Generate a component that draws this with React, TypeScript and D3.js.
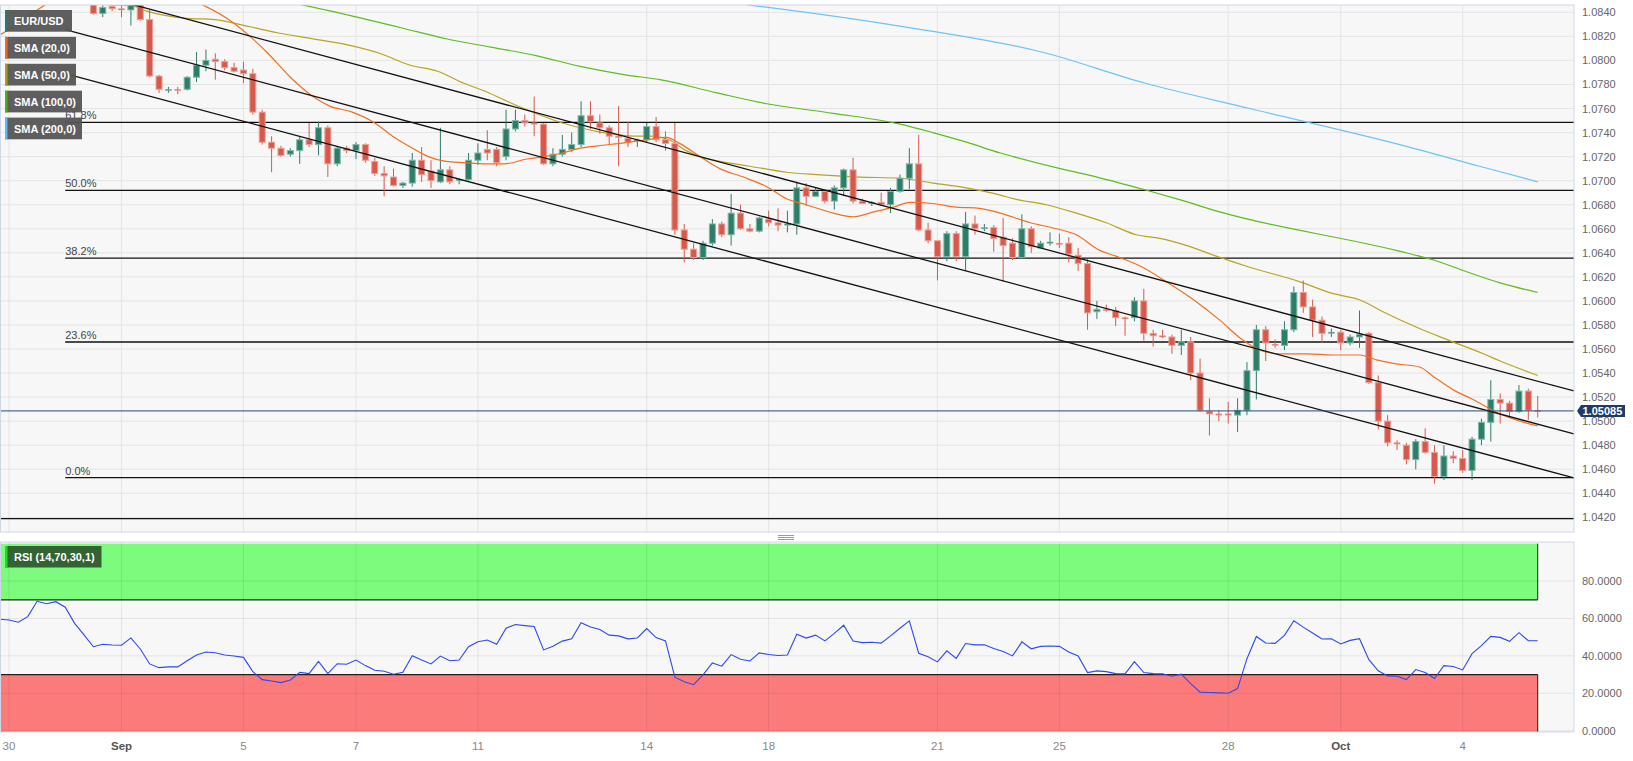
import React from 'react';
import * as d3 from 'd3';

const W = 1633;
const H = 761;

// ---- Candles (4H EUR/USD), index 0..164 ----
const opens = [
  1.0862, 1.0870, 1.0881, 1.0877, 1.0901, 1.0931, 1.0922, 1.0928, 1.0909, 1.0884,
  1.0858, 1.0839, 1.0845, 1.0843, 1.0842, 1.0848, 1.0834, 1.0787, 1.0775, 1.0776,
  1.0776, 1.0786, 1.0796, 1.0801, 1.0799, 1.0794, 1.0792, 1.0789, 1.0757, 1.0732,
  1.0727, 1.0722, 1.0725, 1.0734, 1.0730, 1.0744, 1.0714, 1.0727, 1.0725, 1.0730,
  1.0716, 1.0706, 1.0703, 1.0696, 1.0698, 1.0717, 1.0708, 1.0699, 1.0709, 1.0700,
  1.0701, 1.0717, 1.0726, 1.0726, 1.0720, 1.0743, 1.0750, 1.0748, 1.0747, 1.0714,
  1.0722, 1.0726, 1.0730, 1.0754, 1.0748, 1.0744, 1.0737, 1.0735, 1.0733, 1.0734,
  1.0745, 1.0734, 1.0731, 1.0659, 1.0643, 1.0636, 1.0648, 1.0664, 1.0655, 1.0673,
  1.0660, 1.0658, 1.0668, 1.0665, 1.0663, 1.0664, 1.0694, 1.0687, 1.0691, 1.0683,
  1.0694, 1.0709, 1.0683, 1.0681, 1.0682, 1.0680, 1.0691, 1.0702, 1.0714, 1.0659,
  1.0650, 1.0637, 1.0656, 1.0637, 1.0664, 1.0660, 1.0661, 1.0653, 1.0648, 1.0636,
  1.0660, 1.0644, 1.0648, 1.0648, 1.0648, 1.0638, 1.0631, 1.0591, 1.0593, 1.0592,
  1.0586, 1.0586, 1.0600, 1.0573, 1.0571, 1.0570, 1.0563, 1.0566, 1.0540, 1.0508,
  1.0506, 1.0506, 1.0505, 1.0509, 1.0542, 1.0576, 1.0564, 1.0563, 1.0576, 1.0607,
  1.0595, 1.0584, 1.0573, 1.0574, 1.0565, 1.0570, 1.0573, 1.0532, 1.0500, 1.0482,
  1.0480, 1.0468, 1.0483, 1.0474, 1.0454, 1.0471, 1.0469, 1.0459, 1.0485, 1.0499,
  1.0518, 1.0515, 1.0508, 1.0525, 1.0509,
];
const highs = [
  1.0875, 1.0886, 1.0892, 1.0905, 1.0945, 1.0941, 1.0936, 1.0932, 1.0914, 1.0889,
  1.0861, 1.0846, 1.0848, 1.0846, 1.0851, 1.0852, 1.0842, 1.0788, 1.0778, 1.0778,
  1.0787, 1.0807, 1.0809, 1.0806, 1.0801, 1.0798, 1.0799, 1.0793, 1.0759, 1.0737,
  1.0729, 1.0727, 1.0737, 1.0748, 1.0749, 1.0746, 1.0729, 1.0729, 1.0732, 1.0731,
  1.0719, 1.0712, 1.0710, 1.0699, 1.0723, 1.0728, 1.0717, 1.0744, 1.0712, 1.0702,
  1.0723, 1.0731, 1.0742, 1.0728, 1.0759, 1.0759, 1.0755, 1.0770, 1.0748, 1.0727,
  1.0738, 1.0740, 1.0766, 1.0766, 1.0755, 1.0746, 1.0762, 1.0749, 1.0735, 1.0748,
  1.0753, 1.0741, 1.0748, 1.0664, 1.0648, 1.0650, 1.0668, 1.0666, 1.0689, 1.0680,
  1.0664, 1.0670, 1.0675, 1.0677, 1.0675, 1.0699, 1.0698, 1.0694, 1.0693, 1.0696,
  1.0710, 1.0719, 1.0685, 1.0683, 1.0690, 1.0694, 1.0705, 1.0727, 1.0738, 1.0665,
  1.0650, 1.0658, 1.0658, 1.0674, 1.0671, 1.0664, 1.0663, 1.0669, 1.0652, 1.0672,
  1.0662, 1.0650, 1.0657, 1.0656, 1.0653, 1.0644, 1.0635, 1.0600, 1.0597, 1.0595,
  1.0587, 1.0603, 1.0610, 1.0576, 1.0576, 1.0572, 1.0576, 1.0570, 1.0552, 1.0519,
  1.0509, 1.0516, 1.0519, 1.0549, 1.0580, 1.0579, 1.0568, 1.0583, 1.0612, 1.0617,
  1.0601, 1.0587, 1.0577, 1.0576, 1.0572, 1.0592, 1.0574, 1.0538, 1.0505, 1.0484,
  1.0482, 1.0485, 1.0494, 1.0480, 1.0480, 1.0475, 1.0476, 1.0487, 1.0502, 1.0534,
  1.0523, 1.0517, 1.0530, 1.0527, 1.0521,
];
const lows = [
  1.0855, 1.0863, 1.0872, 1.0874, 1.0896, 1.0915, 1.0914, 1.0904, 1.0878, 1.0852,
  1.0838, 1.0836, 1.0841, 1.0836, 1.0829, 1.0833, 1.0786, 1.0773, 1.0773, 1.0772,
  1.0775, 1.0782, 1.0791, 1.0784, 1.0792, 1.0790, 1.0781, 1.0755, 1.0730, 1.0707,
  1.0720, 1.0720, 1.0714, 1.0728, 1.0721, 1.0703, 1.0712, 1.0723, 1.0718, 1.0715,
  1.0704, 1.0687, 1.0695, 1.0694, 1.0695, 1.0699, 1.0694, 1.0698, 1.0697, 1.0697,
  1.0700, 1.0713, 1.0717, 1.0712, 1.0717, 1.0741, 1.0745, 1.0737, 1.0713, 1.0712,
  1.0720, 1.0724, 1.0728, 1.0743, 1.0739, 1.0730, 1.0712, 1.0728, 1.0728, 1.0732,
  1.0732, 1.0725, 1.0655, 1.0632, 1.0634, 1.0634, 1.0646, 1.0653, 1.0646, 1.0659,
  1.0657, 1.0657, 1.0662, 1.0658, 1.0657, 1.0655, 1.0679, 1.0687, 1.0681, 1.0676,
  1.0687, 1.0681, 1.0681, 1.0679, 1.0679, 1.0673, 1.0690, 1.0693, 1.0658, 1.0648,
  1.0617, 1.0633, 1.0633, 1.0625, 1.0655, 1.0658, 1.0641, 1.0616, 1.0634, 1.0635,
  1.0640, 1.0644, 1.0646, 1.0644, 1.0632, 1.0625, 1.0576, 1.0585, 1.0591, 1.0579,
  1.0571, 1.0583, 1.0567, 1.0562, 1.0569, 1.0556, 1.0555, 1.0534, 1.0508, 1.0488,
  1.0500, 1.0498, 1.0491, 1.0505, 1.0518, 1.0550, 1.0561, 1.0559, 1.0574, 1.0590,
  1.0570, 1.0565, 1.0570, 1.0559, 1.0563, 1.0561, 1.0531, 1.0493, 1.0479, 1.0476,
  1.0464, 1.0460, 1.0473, 1.0448, 1.0451, 1.0465, 1.0457, 1.0451, 1.0480, 1.0483,
  1.0498, 1.0504, 1.0507, 1.0501, 1.0503,
];
const closes = [
  1.0870, 1.0881, 1.0877, 1.0901, 1.0931, 1.0922, 1.0928, 1.0909, 1.0884, 1.0858,
  1.0839, 1.0844, 1.0843, 1.0842, 1.0848, 1.0834, 1.0787, 1.0776, 1.0776, 1.0775,
  1.0786, 1.0796, 1.0800, 1.0799, 1.0794, 1.0791, 1.0789, 1.0757, 1.0732, 1.0727,
  1.0721, 1.0725, 1.0734, 1.0730, 1.0744, 1.0714, 1.0727, 1.0725, 1.0730, 1.0717,
  1.0706, 1.0704, 1.0696, 1.0698, 1.0717, 1.0705, 1.0700, 1.0709, 1.0699, 1.0701,
  1.0717, 1.0723, 1.0723, 1.0715, 1.0743, 1.0750, 1.0748, 1.0747, 1.0714, 1.0722,
  1.0726, 1.0730, 1.0754, 1.0749, 1.0744, 1.0737, 1.0736, 1.0732, 1.0734, 1.0745,
  1.0734, 1.0731, 1.0659, 1.0643, 1.0636, 1.0648, 1.0664, 1.0655, 1.0673, 1.0660,
  1.0658, 1.0669, 1.0665, 1.0663, 1.0664, 1.0694, 1.0687, 1.0691, 1.0683, 1.0694,
  1.0709, 1.0683, 1.0681, 1.0682, 1.0680, 1.0691, 1.0702, 1.0714, 1.0659, 1.0650,
  1.0637, 1.0656, 1.0637, 1.0664, 1.0660, 1.0661, 1.0652, 1.0646, 1.0636, 1.0660,
  1.0645, 1.0648, 1.0649, 1.0647, 1.0639, 1.0631, 1.0590, 1.0593, 1.0592, 1.0586,
  1.0585, 1.0600, 1.0573, 1.0571, 1.0570, 1.0563, 1.0566, 1.0540, 1.0509, 1.0506,
  1.0505, 1.0505, 1.0509, 1.0542, 1.0576, 1.0565, 1.0563, 1.0576, 1.0607, 1.0595,
  1.0584, 1.0573, 1.0574, 1.0565, 1.0570, 1.0572, 1.0532, 1.0500, 1.0482, 1.0481,
  1.0468, 1.0483, 1.0474, 1.0454, 1.0471, 1.0469, 1.0459, 1.0485, 1.0499, 1.0518,
  1.0515, 1.0508, 1.0525, 1.0509, 1.05085,
];

// ---- RSI (14) ----
const rsiValues = [
  59.6, 59.2, 58.0, 61.0, 69.2, 67.9, 69.0, 66.0, 57.4, 51.2,
  44.9, 46.2, 45.8, 45.7, 49.6, 43.7, 35.7, 33.7, 34.1, 34.1,
  37.4, 40.5, 42.1, 41.7, 40.5, 39.9, 39.2, 31.6, 27.3, 26.6,
  25.7, 27.1, 31.2, 30.5, 37.1, 30.5, 35.8, 35.5, 37.8, 34.8,
  32.3, 31.8, 30.2, 31.2, 40.1, 37.8, 35.7, 39.9, 37.4, 37.8,
  44.9, 47.6, 48.5, 46.2, 54.8, 56.8, 56.2, 55.7, 43.2, 45.2,
  47.9, 49.1, 57.7, 55.4, 54.1, 51.1, 50.7, 49.1, 49.6, 54.6,
  49.8, 48.0, 28.6, 26.2, 24.6, 29.8, 36.2, 34.5, 40.7, 38.2,
  37.3, 41.6, 40.7, 40.2, 40.5, 51.6, 49.5, 51.1, 48.0, 52.0,
  56.4, 47.9, 47.1, 47.3, 46.8, 50.7, 54.8, 58.7, 41.4, 39.5,
  36.8, 42.7, 38.7, 46.6, 45.9, 45.9, 43.9, 42.3, 40.0, 47.5,
  43.8, 45.1, 45.3, 45.1, 42.1, 40.0, 31.1, 32.0, 31.6, 30.5,
  30.4, 36.9, 31.1, 30.5, 30.4, 29.1, 30.2, 25.2, 20.6, 20.4,
  20.2, 20.0, 22.5, 38.5, 50.4, 46.9, 46.7, 51.0, 58.8, 55.4,
  52.2, 49.0, 49.2, 46.4, 48.3, 49.2, 38.0, 32.0, 29.3, 29.1,
  27.3, 32.7, 31.1, 27.9, 34.8, 34.3, 32.5, 41.2, 45.5, 50.4,
  49.9, 47.8, 52.4, 48.1, 48.1,
];

// ---- Moving averages (candle index, value) ----
const sma20Idx = [0, 2.2, 4.8, 8, 12, 16, 19, 21.7, 24.8, 26.7, 28.6, 31, 33.4, 35.2, 37.6, 40, 41.9, 43.8, 45.7, 47.6, 49.5, 51.9, 53.8, 56.2, 58.1, 60, 61.9, 63.8, 66.1, 69, 71.1, 72.5, 74.7, 76.8, 79.3, 81.8, 83.9, 86, 88.9, 91, 93.2, 95.3, 97.1, 99.5, 102, 104.5, 106.7, 109.9, 112.7, 114.8, 117.3, 119.1, 121.6, 124.4, 127.3, 130.1, 132.3, 134.4, 136.5, 139.4, 142.2, 145, 146.8, 148.6, 151.4, 152.9, 155, 157.1, 160, 162.1, 164];
const sma20Val = [1.0821, 1.0832, 1.0846, 1.0858, 1.0866, 1.0862, 1.0854, 1.0846, 1.0832, 1.0820, 1.0806, 1.0786, 1.0770, 1.0762, 1.0757, 1.0748, 1.0737, 1.0728, 1.0720, 1.0716, 1.0715, 1.0714, 1.0714, 1.0718, 1.0720, 1.0723, 1.0727, 1.0729, 1.0731, 1.0734, 1.0736, 1.0731, 1.0720, 1.0710, 1.0703, 1.0695, 1.0685, 1.0680, 1.0673, 1.0670, 1.0674, 1.0678, 1.0682, 1.0681, 1.0678, 1.0677, 1.0673, 1.0665, 1.0660, 1.0655, 1.0642, 1.0637, 1.0629, 1.0616, 1.0601, 1.0584, 1.0569, 1.0559, 1.0556, 1.0556, 1.0555, 1.0555, 1.0551, 1.0548, 1.0545, 1.0537, 1.0526, 1.0518, 1.0506, 1.0500, 1.0496];

const sma50Idx = [0, 9.5, 14.3, 15.7, 20, 22.9, 26.7, 29.6, 33.4, 37.1, 40.5, 43.8, 46.7, 49.5, 51.9, 54.7, 57.2, 60, 61.9, 64.3, 67.6, 69.5, 71.4, 73.2, 74.7, 76.8, 80, 83.9, 87.1, 91.7, 96, 99.5, 103.1, 106.7, 108.1, 111.6, 114.8, 118, 121.2, 123.7, 126.6, 129.8, 133.3, 138.6, 142.2, 145, 147.5, 151.4, 154.6, 158.2, 160, 164];
const sma50Val = [1.0850, 1.0847, 1.0845, 1.0841, 1.0835, 1.0834, 1.0828, 1.0823, 1.0818, 1.0813, 1.0806, 1.0796, 1.0791, 1.0781, 1.0774, 1.0764, 1.0756, 1.0748, 1.0744, 1.0740, 1.0737, 1.0737, 1.0734, 1.0725, 1.0720, 1.0716, 1.0712, 1.0707, 1.0705, 1.0703, 1.0702, 1.0698, 1.0694, 1.0688, 1.0685, 1.0680, 1.0673, 1.0665, 1.0655, 1.0652, 1.0646, 1.0637, 1.0628, 1.0616, 1.0606, 1.0601, 1.0591, 1.0577, 1.0567, 1.0556, 1.0550, 1.0538];

const sma100Idx = [0, 20, 32.4, 38.1, 42.9, 47.6, 52.4, 57.2, 61.9, 66.7, 70.4, 76.5, 81.8, 88.9, 96, 99.5, 103.1, 106.7, 108.1, 113.1, 117, 122.3, 125.9, 130.1, 148.9, 152.9, 156.5, 160, 164];
const sma100Val = [1.0872, 1.0862, 1.0846, 1.0836, 1.0827, 1.0818, 1.0811, 1.0804, 1.0795, 1.0788, 1.0784, 1.0773, 1.0764, 1.0756, 1.0747, 1.0740, 1.0732, 1.0723, 1.0720, 1.0710, 1.0703, 1.0692, 1.0684, 1.0674, 1.0642, 1.0634, 1.0624, 1.0615, 1.0607];

const sma200Idx = [60, 80, 95.6, 111.1, 122.2, 133.3, 149.3, 157.8, 164];
const sma200Val = [1.0862, 1.0846, 1.0829, 1.0807, 1.0781, 1.0760, 1.0730, 1.0712, 1.0699];

// ---- Drawings ----
const channelStartIdx = 7;
const channelEndIdx = 167.87;
const channelStartVals = [1.08615, 1.08257, 1.07891];
const channelEndVals = [1.05251, 1.04894, 1.04528];
const fibLow = 1.0453;
const fibHigh = 1.0931;
const fibRatios = [0.618, 0.5, 0.382, 0.236, 0.0];
const fibLabels = ['61.8%', '50.0%', '38.2%', '23.6%', '0.0%'];
const supportLevel = 1.0419;
const lastPrice = 1.05085;

// ---- Axes ----
const priceTicks = [1.042, 1.044, 1.046, 1.048, 1.05, 1.052, 1.054, 1.056, 1.058, 1.06, 1.062, 1.064, 1.066, 1.068, 1.07, 1.072, 1.074, 1.076, 1.078, 1.08, 1.082, 1.084];
const rsiTicks = [0, 20, 40, 60, 80];
const dayTickIdx = [1, 13, 26, 38, 51, 69, 82, 100, 113, 131, 143, 156];
const dayTickLabels = ['30', 'Sep', '5', '7', '11', '14', '18', '21', '25', '28', 'Oct', '4'];
const monthLabels = ['Sep', 'Oct'];

const legendNames = ['EUR/USD', 'SMA (20,0)', 'SMA (50,0)', 'SMA (100,0)', 'SMA (200,0)'];
const legendColors = ['#2d7a69', '#f26a1b', '#b09b14', '#4fb011', '#5ab8f2'];
const smaColors = ['#f2701f', '#b8a41f', '#5cbc20', '#6cc3f5'];

const FONT = '"Liberation Sans", Arial, Helvetica, sans-serif';

const PL = 0, PR = 1574;
const MT = 5, MB = 532;
const RT = 542, RB = 732;

export default function App() {
  const x = d3.scaleLinear().domain([0, 167.87]).range([-0.4, 1574]);
  const y = d3.scaleLinear().domain([1.04078, 1.08461]).range([MB, MT]);
  const yr = d3.scaleLinear().domain([-0.7, 100.9]).range([RB, RT]);

  const smaLine = (idx: number[], val: number[]) =>
    d3.line<number>().x((_, k) => x(idx[k])).y((v) => y(v)).curve(d3.curveMonotoneX)(val) || '';

  const rsiPath = d3.line<number>().x((_, i) => x(i)).y((v) => yr(v))(rsiValues) || '';

  const lastX = x(opens.length - 1);
  const bodyW = 6;

  return (
    <div>
      <style>{`body{margin:0;background:#fff}`}</style>
      <svg width={W} height={H} style={{ display: 'block', fontFamily: FONT }}>
        <defs>
          <clipPath id="mainClip"><rect x={PL} y={MT} width={PR - PL} height={MB - MT} /></clipPath>
          <clipPath id="rsiClip"><rect x={PL} y={RT} width={PR - PL} height={RB - RT} /></clipPath>
        </defs>
        <rect x={0} y={0} width={W} height={H} fill="#ffffff" />

        {/* main panel */}
        <rect x={PL} y={MT} width={PR - PL} height={MB - MT} fill="#f7f7f7" />
        {priceTicks.map((p) => (
          <line key={'hg' + p} x1={PL} x2={PR} y1={y(p)} y2={y(p)} stroke="#e4e4e4" strokeWidth={1} />
        ))}
        {dayTickIdx.map((i) => (
          <line key={'vg' + i} x1={x(i)} x2={x(i)} y1={MT} y2={MB} stroke="#e4e4e4" strokeWidth={1} />
        ))}

        <g clipPath="url(#mainClip)">
          {/* fib + support lines */}
          {fibRatios.map((r, k) => {
            const p = fibLow + r * (fibHigh - fibLow);
            return (
              <g key={'fib' + k}>
                <line x1={x(channelStartIdx)} x2={PR} y1={y(p)} y2={y(p)} stroke="#111" strokeWidth={1.3} />
                <text x={x(channelStartIdx)} y={y(p) - 3} fontSize={11} fill="#444">{fibLabels[k]}</text>
              </g>
            );
          })}
          <line x1={PL} x2={PR} y1={y(supportLevel)} y2={y(supportLevel)} stroke="#111" strokeWidth={1.3} />

          {/* SMAs */}
          <path d={smaLine(sma200Idx, sma200Val)} fill="none" stroke={smaColors[3]} strokeWidth={1.2} />
          <path d={smaLine(sma100Idx, sma100Val)} fill="none" stroke={smaColors[2]} strokeWidth={1.2} />
          <path d={smaLine(sma50Idx, sma50Val)} fill="none" stroke={smaColors[1]} strokeWidth={1.2} />

          {/* candles */}
          {opens.map((o, i) => {
            const c = closes[i];
            const up = c >= o;
            const fill = up ? '#2e7d69' : '#d6594b';
            const edge = up ? '#7fb9a8' : '#eba197';
            const top = y(Math.max(o, c));
            const h = Math.max(1, Math.abs(y(o) - y(c)));
            return (
              <g key={'c' + i}>
                <line x1={x(i)} x2={x(i)} y1={y(highs[i])} y2={y(lows[i])} stroke={fill} strokeWidth={1} />
                <rect x={x(i) - bodyW / 2} y={top} width={bodyW} height={h} fill={fill} stroke={edge} strokeWidth={h > 2 ? 1 : 0.6} />
              </g>
            );
          })}

          <path d={smaLine(sma20Idx, sma20Val)} fill="none" stroke={smaColors[0]} strokeWidth={1.2} />

          {/* channel lines */}
          {channelStartVals.map((v, k) => (
            <line key={'ch' + k} x1={x(channelStartIdx)} y1={y(v)} x2={x(channelEndIdx)} y2={y(channelEndVals[k])} stroke="#111" strokeWidth={1.3} />
          ))}

          {/* last price line */}
          <line x1={PL} x2={PR} y1={y(lastPrice)} y2={y(lastPrice)} stroke="#274a78" strokeWidth={1} />
        </g>
        <rect x={PL + 0.5} y={MT} width={PR - PL - 0.5} height={MB - MT} fill="none" stroke="#cfd6e6" strokeWidth={1} />

        {/* price axis labels */}
        {priceTicks.map((p) => (
          <text key={'pt' + p} x={1582} y={y(p) + 4} fontSize={11} fill="#666">{p.toFixed(4)}</text>
        ))}
        {/* last price tag */}
        <g>
          <path d={`M${1577},${y(lastPrice)} L${1581},${y(lastPrice) - 6} L${1625},${y(lastPrice) - 6} L${1625},${y(lastPrice) + 6} L${1581},${y(lastPrice) + 6} Z`} fill="#1f3c68" />
          <text x={1582.5} y={y(lastPrice) + 4} fontSize={11} fontWeight="bold" fill="#ffffff">{lastPrice.toFixed(5)}</text>
        </g>

        {/* legend */}
        {legendNames.map((n, k) => {
          const widths = [67, 71, 71, 77, 77];
          const by = 10 + k * 26.9;
          return (
            <g key={'lg' + k}>
              <rect x={5} y={by} width={widths[k]} height={21.7} fill="#555" fillOpacity={0.95} />
              <rect x={5} y={by} width={2.5} height={21.7} fill={legendColors[k]} />
              <text x={14} y={by + 15} fontSize={11} fontWeight="bold" fill="#fff">{n}</text>
            </g>
          );
        })}

        {/* separator handle */}
        {[0, 2, 4].map((d) => (
          <line key={'hd' + d} x1={778} x2={794} y1={535.5 + d} y2={535.5 + d} stroke="#9a9a9a" strokeWidth={1} />
        ))}

        {/* RSI panel */}
        <rect x={PL} y={RT} width={PR - PL} height={RB - RT} fill="#f7f7f7" />
        <g clipPath="url(#rsiClip)">
          <rect x={PL} y={yr(100)} width={lastX - PL} height={yr(70) - yr(100)} fill="#7cfb7c" />
          <rect x={PL} y={yr(30)} width={lastX - PL} height={yr(0) - yr(30) + 2} fill="#fb7b7b" />
          {rsiTicks.map((v) => (
            <line key={'rg' + v} x1={PL} x2={PR} y1={yr(v)} y2={yr(v)} stroke="rgba(0,0,0,0.08)" strokeWidth={1} />
          ))}
          {dayTickIdx.map((i) => (
            <line key={'rvg' + i} x1={x(i)} x2={x(i)} y1={RT} y2={RB} stroke="rgba(0,0,0,0.08)" strokeWidth={1} />
          ))}
          <line x1={PL} x2={lastX} y1={yr(70)} y2={yr(70)} stroke="#1a2a1a" strokeWidth={1.2} />
          <line x1={PL} x2={lastX} y1={yr(30)} y2={yr(30)} stroke="#2a1a1a" strokeWidth={1.2} />
          <line x1={lastX} x2={lastX} y1={yr(100)} y2={yr(70)} stroke="#1a2a1a" strokeWidth={1} />
          <line x1={lastX} x2={lastX} y1={yr(30)} y2={RB} stroke="#2a1a1a" strokeWidth={1} />
          <line x1={PL + 0.5} x2={PL + 0.5} y1={yr(100)} y2={yr(70)} stroke="#1a2a1a" strokeWidth={1} />
          <line x1={PL + 0.5} x2={PL + 0.5} y1={yr(30)} y2={RB} stroke="#2a1a1a" strokeWidth={1} />
          <path d={rsiPath} fill="none" stroke="#2b48f5" strokeWidth={1.1} />
        </g>
        <rect x={PL + 0.5} y={RT} width={PR - PL - 0.5} height={RB - RT} fill="none" stroke="#cfd6e6" strokeWidth={1} />
        {rsiTicks.map((v) => (
          <text key={'rt' + v} x={1582} y={yr(v) + 4} fontSize={11} fill="#666">{v.toFixed(4)}</text>
        ))}
        <g>
          <rect x={5} y={546} width={96.5} height={21.5} fill="#2f5a2f" fillOpacity={0.95} />
          <rect x={5} y={546} width={2.5} height={21.5} fill="#19e019" />
          <text x={14} y={561} fontSize={11} fontWeight="bold" fill="#fff">RSI (14,70,30,1)</text>
        </g>

        {/* x axis labels */}
        {dayTickIdx.map((i, k) => {
          const lab = dayTickLabels[k];
          const isMonth = monthLabels.includes(lab);
          return (
            <text key={'xt' + k} x={x(i)} y={750} fontSize={11.5} textAnchor="middle" fill={isMonth ? '#555' : '#888'} fontWeight={isMonth ? 'bold' : 'normal'}>{lab}</text>
          );
        })}
      </svg>
    </div>
  );
}
